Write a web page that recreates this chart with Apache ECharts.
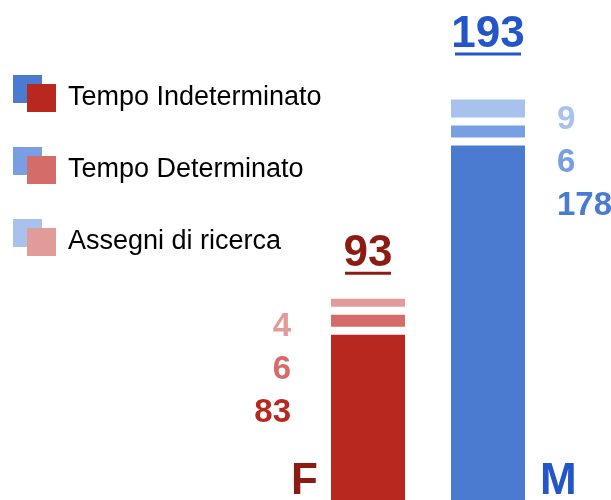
<!DOCTYPE html>
<html>
<head>
<meta charset="utf-8">
<script src="https://cdn.jsdelivr.net/npm/echarts@6/dist/echarts.min.js"></script>
<style>
  html, body { margin: 0; padding: 0; background: #fff; }
  #chart-container { width: 611px; height: 500px; }
</style>
</head>
<body>
<div id="chart-container"></div>
<script>
// data
var categories = ["F", "M"];
var seriesNames = ["Tempo Indeterminato", "Tempo Determinato", "Assegni di ricerca"];
var indeterminato = [83, 178];
var determinato = [6, 6];
var assegni = [4, 9];

// colours: [indeterminato, determinato, assegni] per category
var shades = [
  ["#b8281e", "#d46d6a", "#e19c9a"],
  ["#4b7bd1", "#789fe3", "#a8c2ee"]
];
var darkColors = ["#8c1c13", "#2356c8"];

var numFont = '"Liberation Sans", Arial, sans-serif';
var gapValue = 4; // white space between stacked blocks

var totals = categories.map(function (c, i) {
  return indeterminato[i] + determinato[i] + assegni[i];
});

var dom = document.getElementById("chart-container");
var myChart = echarts.init(dom, null, { renderer: "canvas" });

function coloured(values, level) {
  return values.map(function (v, i) {
    return { value: v, itemStyle: { color: shades[i][level] } };
  });
}

// F / M letter at the foot of each bar
var mainData = coloured(indeterminato, 0).map(function (d, i) {
  d.label = i === 0
    ? { position: [-13, "100%"], align: "right", offset: [0, 4] }
    : { position: [89, "100%"], align: "left", offset: [0, 4] };
  return d;
});

// list of the three values beside each bar
var listShift = [67, 54];
var listData = coloured(assegni, 2).map(function (d, i) {
  d.label = i === 0
    ? { position: "left", distance: 40, align: "right", offset: [0, listShift[i]] }
    : { position: "right", distance: 32, align: "left", offset: [0, listShift[i]] };
  return d;
});

// totals above each bar
var totalGap = [24, 44];
var totalData = categories.map(function (c, i) {
  return { value: 0, label: { distance: totalGap[i] } };
});

var listRich = {};
categories.forEach(function (c, i) {
  [0, 1, 2].forEach(function (k) {
    listRich["c" + i + k] = {
      color: shades[i][k],
      fontFamily: numFont,
      fontWeight: "bold",
      fontSize: 33,
      lineHeight: 43
    };
  });
});

function gapSeries(name) {
  return {
    name: name,
    type: "bar",
    stack: "tot",
    silent: true,
    barWidth: 74,
    itemStyle: { color: "rgba(0,0,0,0)" },
    data: categories.map(function () { return gapValue; })
  };
}

var bigText = { fontFamily: numFont, fontWeight: "bold", fontSize: 44 };

var option = {
  animation: false,
  grid: { left: 308, right: 63, top: 0, bottom: 0 },
  xAxis: { type: "category", data: categories, show: false },
  yAxis: { type: "value", min: 0, max: 251, show: false },
  legend: [
    {
      orient: "vertical",
      left: 8,
      top: 70,
      itemWidth: 29,
      itemHeight: 28,
      itemGap: 44,
      selectedMode: false,
      icon: "rect",
      formatter: function () { return ""; },
      data: seriesNames.map(function (n, k) {
        return { name: n, itemStyle: { color: shades[1][k] } };
      })
    },
    {
      orient: "vertical",
      left: 22,
      top: 79,
      itemWidth: 29,
      itemHeight: 28,
      itemGap: 44,
      selectedMode: false,
      icon: "rect",
      textStyle: {
        fontFamily: '"Liberation Sans", Arial, sans-serif',
        fontSize: 27,
        color: "#000",
        padding: [0, 0, 0, 7]
      },
      data: seriesNames.map(function (n, k) {
        return { name: n, itemStyle: { color: shades[0][k] } };
      })
    }
  ],
  series: [
    {
      name: seriesNames[0],
      type: "bar",
      stack: "tot",
      barWidth: 74,
      data: mainData,
      label: {
        show: true,
        verticalAlign: "bottom",
        formatter: function (p) {
          return "{c" + p.dataIndex + "|" + categories[p.dataIndex] + "}";
        },
        rich: {
          c0: Object.assign({ color: darkColors[0] }, bigText),
          c1: Object.assign({ color: darkColors[1] }, bigText)
        }
      }
    },
    gapSeries("gap1"),
    {
      name: seriesNames[1],
      type: "bar",
      stack: "tot",
      barWidth: 74,
      data: coloured(determinato, 1)
    },
    gapSeries("gap2"),
    {
      name: seriesNames[2],
      type: "bar",
      stack: "tot",
      barWidth: 74,
      data: listData,
      label: {
        show: true,
        formatter: function (p) {
          var i = p.dataIndex;
          return "{c" + i + "2|" + assegni[i] + "}\n" +
                 "{c" + i + "1|" + determinato[i] + "}\n" +
                 "{c" + i + "0|" + indeterminato[i] + "}";
        },
        rich: listRich
      }
    },
    {
      name: "Totale",
      type: "bar",
      stack: "tot",
      barWidth: 74,
      silent: true,
      itemStyle: { color: "rgba(0,0,0,0)" },
      data: totalData,
      label: {
        show: true,
        position: "top",
        align: "center",
        formatter: function (p) {
          var i = p.dataIndex;
          return "{t" + i + "|" + totals[i] + "}\n{u" + i + "| }";
        },
        rich: {
          t0: Object.assign({ color: darkColors[0], lineHeight: 35 }, bigText),
          t1: Object.assign({ color: darkColors[1], lineHeight: 35 }, bigText),
          u0: { backgroundColor: darkColors[0], width: 46, height: 3, lineHeight: 3, fontSize: 3 },
          u1: { backgroundColor: darkColors[1], width: 66, height: 3, lineHeight: 3, fontSize: 3 }
        }
      }
    }
  ]
};

myChart.setOption(option);
window.addEventListener("resize", myChart.resize);
</script>
</body>
</html>
